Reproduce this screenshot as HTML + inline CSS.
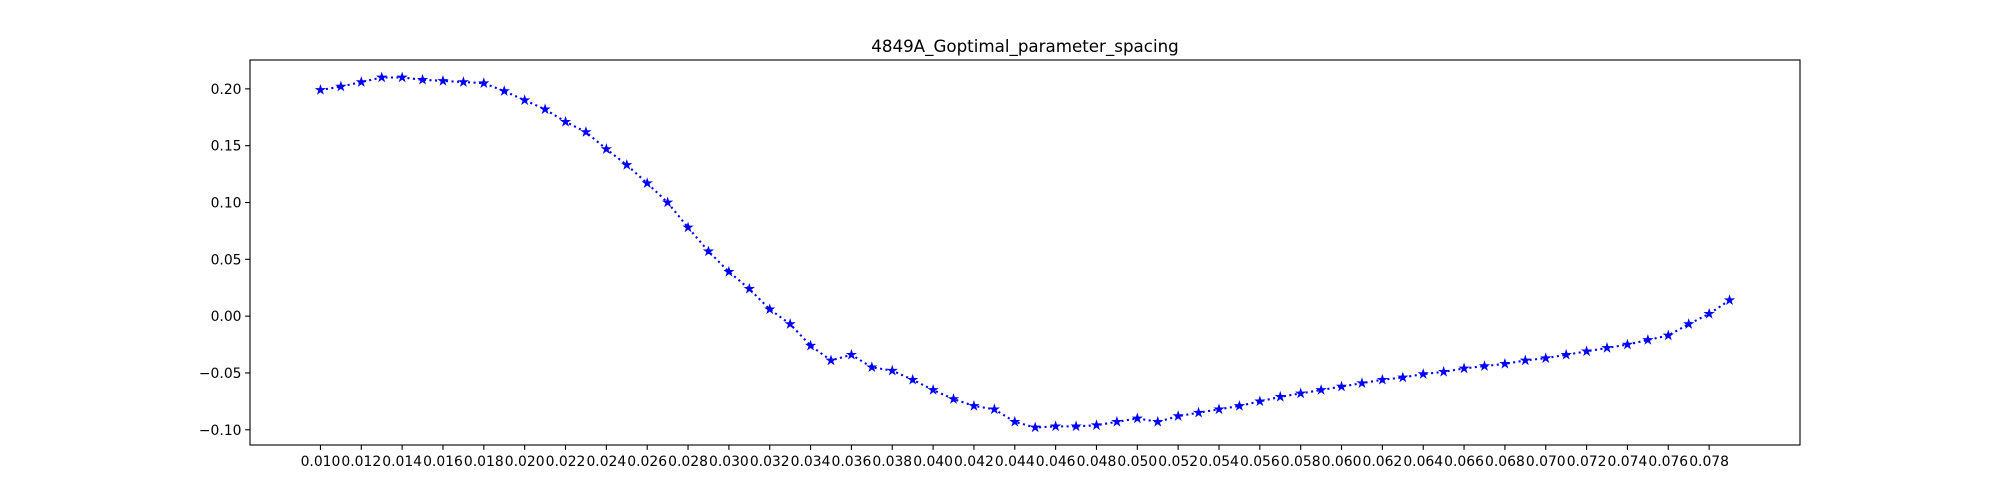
<!DOCTYPE html>
<html>
<head>
<meta charset="utf-8">
<style>
  html, body { margin: 0; padding: 0; background: #fff; }
  svg { display: block; }
  text { font-family: "DejaVu Sans", "Liberation Sans", sans-serif; fill: #000; }
</style>
</head>
<body>
<svg id="chart" width="2000" height="500" viewBox="0 0 2000 500" xmlns="http://www.w3.org/2000/svg">
  <rect x="0" y="0" width="2000" height="500" fill="#fff"/>
  <text x="1025" y="52" font-size="16.7" text-anchor="middle">4849A_Goptimal_parameter_spacing</text>
  <g id="xaxis"></g>
  <g id="yaxis"></g>
  <g id="series"></g>
  <rect x="250" y="60" width="1550" height="385" fill="none" stroke="#000" stroke-width="1.1"/>
</svg>
<script>
const xValues = [0.010,0.011,0.012,0.013,0.014,0.015,0.016,0.017,0.018,0.019,
  0.020,0.021,0.022,0.023,0.024,0.025,0.026,0.027,0.028,0.029,
  0.030,0.031,0.032,0.033,0.034,0.035,0.036,0.037,0.038,0.039,
  0.040,0.041,0.042,0.043,0.044,0.045,0.046,0.047,0.048,0.049,
  0.050,0.051,0.052,0.053,0.054,0.055,0.056,0.057,0.058,0.059,
  0.060,0.061,0.062,0.063,0.064,0.065,0.066,0.067,0.068,0.069,
  0.070,0.071,0.072,0.073,0.074,0.075,0.076,0.077,0.078,0.079];
const yValues = [0.199,0.202,0.206,0.210,0.210,0.208,0.207,0.206,0.205,0.198,
  0.190,0.182,0.171,0.162,0.147,0.133,0.117,0.100,0.078,0.057,
  0.039,0.024,0.006,-0.007,-0.026,-0.039,-0.034,-0.045,-0.048,-0.056,
  -0.065,-0.073,-0.079,-0.082,-0.093,-0.098,-0.097,-0.097,-0.096,-0.093,
  -0.090,-0.093,-0.088,-0.085,-0.082,-0.079,-0.075,-0.071,-0.068,-0.065,
  -0.062,-0.059,-0.056,-0.054,-0.051,-0.049,-0.046,-0.044,-0.042,-0.039,
  -0.037,-0.034,-0.031,-0.028,-0.025,-0.021,-0.017,-0.007,0.002,0.014];
const xTickLabels = ["0.010","0.012","0.014","0.016","0.018","0.020","0.022","0.024","0.026","0.028",
  "0.030","0.032","0.034","0.036","0.038","0.040","0.042","0.044","0.046","0.048",
  "0.050","0.052","0.054","0.056","0.058","0.060","0.062","0.064","0.066","0.068",
  "0.070","0.072","0.074","0.076","0.078"];
const yTickLabels = ["\u22120.10","\u22120.05","0.00","0.05","0.10","0.15","0.20"];

const NS = "http://www.w3.org/2000/svg";
const L = 250, R = 1800, T = 60, B = 445;
const xmin = Math.min(...xValues), xmax = Math.max(...xValues);
const xpad = (xmax - xmin) * 0.05;
const ymin = Math.min(...yValues), ymax = Math.max(...yValues);
const ypad = (ymax - ymin) * 0.05;
function xScale(v) { return L + (v - (xmin - xpad)) / ((xmax + xpad) - (xmin - xpad)) * (R - L); }
function yScale(v) { return B - (v - (ymin - ypad)) / ((ymax + ypad) - (ymin - ypad)) * (B - T); }
function mk(tag, attrs, parent) {
  const e = document.createElementNS(NS, tag);
  for (const k in attrs) e.setAttribute(k, attrs[k]);
  parent.appendChild(e);
  return e;
}
const xg = document.getElementById('xaxis');
xTickLabels.forEach(function (lab) {
  const x = xScale(parseFloat(lab));
  const tk = mk('line', {x1: x, x2: x, y1: B, y2: B + 4.9, stroke: '#000', 'stroke-width': 1.1}, xg);
  
  
  const t = mk('text', {x: x, y: B + 21, 'font-size': 13.9, 'text-anchor': 'middle'}, xg);
  t.textContent = lab;
  
  
});
const yg = document.getElementById('yaxis');
yTickLabels.forEach(function (lab) {
  const y = yScale(parseFloat(lab.replace('\u2212', '-')));
  const tk = mk('line', {x1: L - 4.9, x2: L, y1: y, y2: y, stroke: '#000', 'stroke-width': 1.1}, yg);
  
  
  const t = mk('text', {x: L - 8.5, y: y + 5, 'font-size': 13.9, 'text-anchor': 'end'}, yg);
  t.textContent = lab;
  
  
});
const sg = document.getElementById('series');
const pts = xValues.map(function (v, i) { return xScale(v).toFixed(2) + ',' + yScale(yValues[i]).toFixed(2); }).join(' ');
const line = mk('polyline', {points: pts, fill: 'none', stroke: '#0000ff', 'stroke-width': 2.08, 'stroke-dasharray': '2.08 3.44'}, sg);


function starPts(cx, cy, r) {
  const ri = r * 0.381966, out = [];
  for (let k = 0; k < 10; k++) {
    const a = -Math.PI / 2 + k * Math.PI / 5;
    const rr = k % 2 === 0 ? r : ri;
    out.push((cx + rr * Math.cos(a)).toFixed(2) + ',' + (cy + rr * Math.sin(a)).toFixed(2));
  }
  return out.join(' ');
}
xValues.forEach(function (v, i) {
  const s = mk('polygon', {points: starPts(xScale(v), yScale(yValues[i]), 4.3), fill: '#0000ff', stroke: '#0000ff', 'stroke-width': 1}, sg);
  
  
});
</script>
</body>
</html>
